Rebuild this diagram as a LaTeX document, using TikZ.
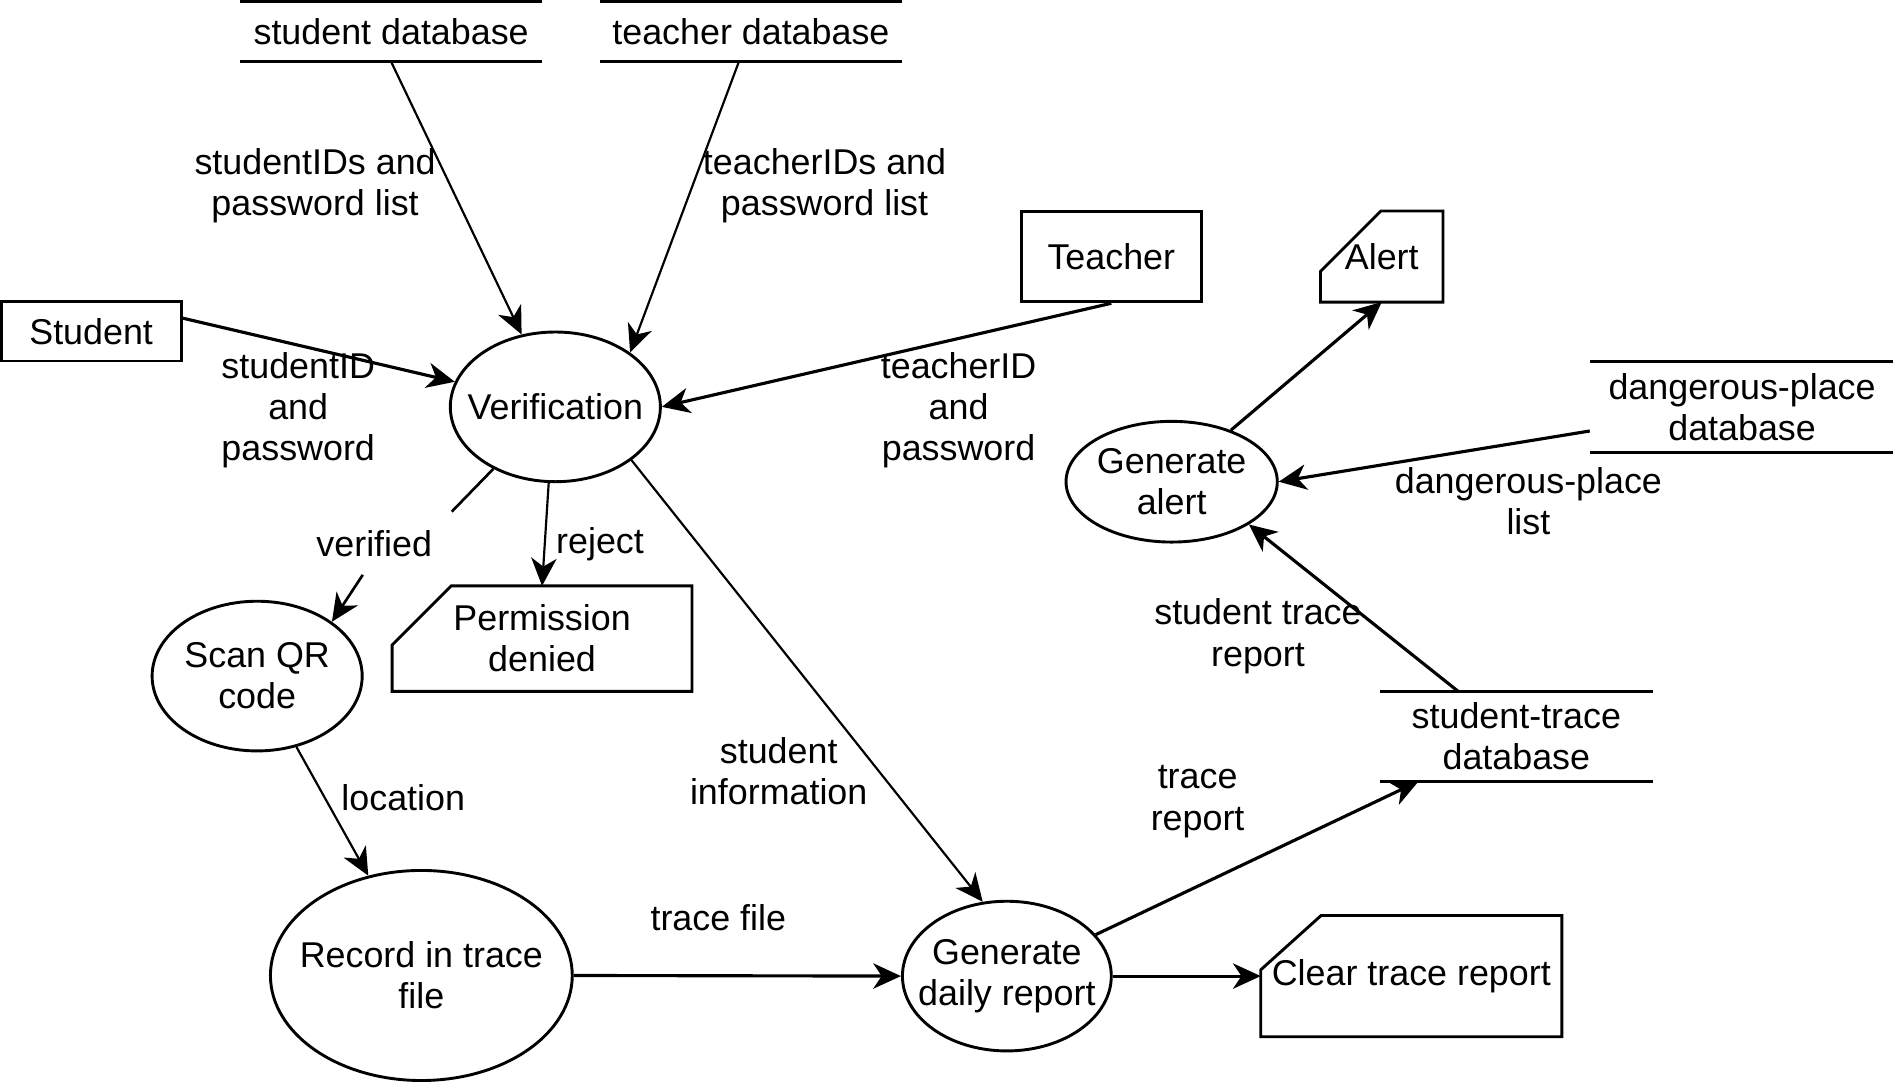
\documentclass[tikz,border=0pt]{standalone}
\usepackage{fontspec}
\setmainfont{Liberation Sans}
\usetikzlibrary{arrows.meta,calc,shapes.geometric}

\begin{document}
\begin{tikzpicture}[x=1pt, y=-1pt,
    font=\fontsize{29.7}{34}\selectfont,
    proc/.style={ellipse, draw=black, line width=2.4pt, inner xsep=-40pt, inner ysep=-25pt, align=center},
    ent/.style={rectangle, draw=black, line width=2.4pt, align=center},
    store/.style={rectangle, align=center},
    card/.style={rectangle, align=center},
    txt/.style={align=center, inner sep=0pt},
    storeline/.style={line width=2.6pt},
    cardline/.style={line width=2.4pt, line join=miter},
    flowarrow/.style={line width=2.6pt, -{Stealth[length=23pt, width=21pt, inset=7pt]}},
    thinarrow/.style={flowarrow, line width=1.8pt}]
    \useasboundingbox (0,0) rectangle (1568,897);

    % data stores
    \node (sdb) [store, minimum width=250pt, minimum height=50pt] at (324,26) {student database};
    \node (tdb) [store, minimum width=250pt, minimum height=50pt] at (622,26) {teacher database};
    \node (dpdb) [store, minimum width=252pt, minimum height=75pt] at (1443,337) {dangerous-place\\database};
    \node (stdb) [store, minimum width=226pt, minimum height=74pt] at (1256,610) {student-trace\\database};
    \foreach \s in {sdb,tdb,dpdb,stdb}
        \draw [storeline] (\s.north west) -- (\s.north east) (\s.south west) -- (\s.south east);

    % external entities
    \node (student) [ent, minimum width=149pt, minimum height=49pt] at (75.5,274.5) {Student};
    \node (teacher) [ent, minimum width=149pt, minimum height=75pt] at (920.5,212.5) {Teacher};

    % outputs
    \node (alert) [card, minimum width=101pt, minimum height=75pt] at (1144.5,212.5) {Alert};
    \node (perm) [card, minimum width=248pt, minimum height=87pt] at (449,529) {Permission\\denied};
    \node (clear) [card, minimum width=249pt, minimum height=100pt] at (1169,808.5) {Clear trace report};
    \draw [cardline] ($(alert.north west)+(50,0)$) -- (alert.north east) -- (alert.south east) -- (alert.south west) -- ($(alert.north west)+(0,50)$) -- cycle;
    \draw [cardline] ($(perm.north west)+(49,0)$) -- (perm.north east) -- (perm.south east) -- (perm.south west) -- ($(perm.north west)+(0,49)$) -- cycle;
    \draw [cardline] ($(clear.north west)+(50,0)$) -- (clear.north east) -- (clear.south east) -- (clear.south west) -- ($(clear.north west)+(0,45)$) -- cycle;

    % processes
    \node (ver) [proc, minimum width=174pt, minimum height=124pt] at (460,337) {Verification};
    \node (scan) [proc, minimum width=174pt, minimum height=124pt] at (213,560) {Scan QR\\code};
    \node (record) [proc, minimum width=250pt, minimum height=174pt] at (349,808) {Record in trace\\file};
    \node (gdaily) [proc, minimum width=173pt, minimum height=124pt] at (834,808.5) {Generate\\daily report};
    \node (galert) [proc, minimum width=175pt, minimum height=100pt] at (970.5,399) {Generate\\alert};

    % flow labels
    \node (l-sids) [txt] at (261,154) {studentIDs and\\password list};
    \node (l-tids) [txt] at (683,154) {teacherIDs and\\password list};
    \node (l-sid) [txt] at (247,340) {studentID\\and\\password};
    \node (l-tid) [txt] at (794,340) {teacherID\\and\\password};
    \node (verified) [txt, minimum width=128pt, minimum height=52pt] at (310,450) {verified};
    \node (l-rej) [txt] at (497,451) {reject};
    \node (l-loc) [txt] at (334,661) {location};
    \node (l-info) [txt] at (645,639) {student\\information};
    \node (l-tfile) [txt] at (595,760) {trace file};
    \node (l-trep) [txt] at (992,664) {trace\\report};
    \node (l-strep) [txt] at (1042,527) {student trace\\report};
    \node (l-dpl) [txt] at (1266,415) {dangerous-place\\list};

    \draw [thinarrow] (sdb.south) -- (ver.115);
    \draw [thinarrow] ($(tdb.south)+(-10,0)$) -- (ver.36);
    \draw [flowarrow] ($(student.east)+(0,-11)$) -- (ver.166);
    \draw [flowarrow] (teacher.south) -- (ver.east);
    \draw [line width=2.2pt] (ver.-135) -- (verified.north east);
    \draw [flowarrow, line width=2.2pt] (verified.-110) -- (scan.36);
    \draw [thinarrow] (ver.265) -- (perm.north);
    \draw [thinarrow] (ver.-35) -- (gdaily.108);
    \draw [thinarrow] (scan.-61) -- (record.118);
    \draw [flowarrow] (record.east) -- (gdaily.west);
    \draw [flowarrow] (gdaily.east) -- (clear.west);
    \draw [flowarrow] (gdaily.25) -- ($(stdb.south)+(-81,0)$);
    \draw [flowarrow] ($(stdb.north)+(-48,0)$) -- (galert.-29);
    \draw [flowarrow] (galert.41) -- (alert.south);
    \draw [flowarrow] ($(dpdb.west)+(0,20)$) -- (galert.east);
\end{tikzpicture}
\end{document}
